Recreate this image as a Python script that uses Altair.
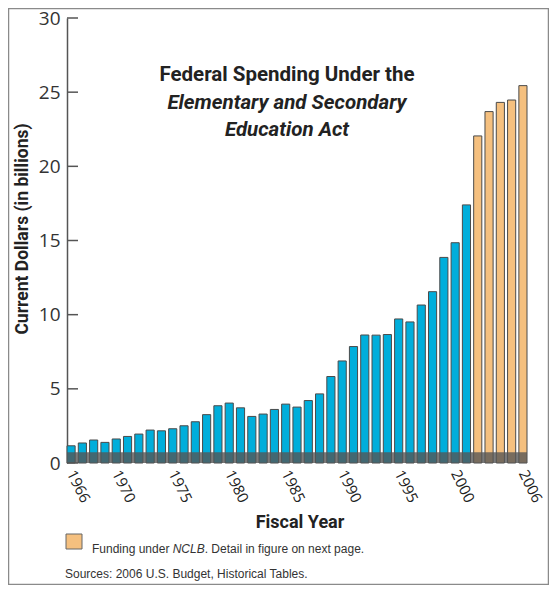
import altair as alt
import pandas as pd

# ---- data ----
years = list(range(1966, 2007))
spending = [1.16, 1.35, 1.55, 1.39, 1.62, 1.79, 1.95, 2.22, 2.17, 2.31, 2.51, 2.78,
            3.26, 3.86, 4.04, 3.72, 3.14, 3.30, 3.61, 3.97, 3.77, 4.21, 4.66,
            5.83, 6.88, 7.85, 8.63, 8.62, 8.66, 9.71, 9.51, 10.65, 11.55, 13.86, 14.85, 17.40,
            22.05, 23.69, 24.31, 24.47, 25.44]
period = ["ESEA"] * 36 + ["NCLB"] * 5
year_ticks = [1966, 1970, 1975, 1980, 1985, 1990, 1995, 2000, 2006]
y_ticks = [0, 5, 10, 15, 20, 25, 30]
title_lines = ["Federal Spending Under the", "Elementary and Secondary", "Education Act"]
y_title = "Current Dollars (in billions)"
x_title = "Fiscal Year"
legend_parts = ["Funding under ", "NCLB", ". Detail in figure on next page."]
source_note = "Sources: 2006 U.S. Budget, Historical Tables."

W, H = 460, 445
HEAD = "Roboto, Liberation Sans, sans-serif"
REG = "Liberation Sans, Arial, sans-serif"
NUM = "Open Sans, Noto Sans, sans-serif"

df = pd.DataFrame({"year": years, "spending": spending, "period": period})
one = pd.DataFrame({"a": [0]})
xscale = alt.Scale(domain=years, paddingInner=0.28, paddingOuter=0.0)

bars = alt.Chart(df).mark_bar(stroke="#4a4a4a", strokeWidth=1).encode(
    x=alt.X("year:O", scale=xscale, axis=None),
    y=alt.Y("spending:Q",
            scale=alt.Scale(domain=[0, 30], nice=False),
            axis=alt.Axis(values=y_ticks, ticks=False, domainColor="#555",
                          domainWidth=1.5, labelFontSize=19, labelFont=NUM,
                          labelColor="#333", labelPadding=7, grid=False, title=None)),
    color=alt.Color("period:N",
                    scale=alt.Scale(domain=["ESEA", "NCLB"], range=["#00AEDB", "#F5C07F"]),
                    legend=None),
)

# x tick labels, placed through the shared band scale
xlabels = alt.Chart(pd.DataFrame({"year": year_ticks})).mark_text(
    angle=64, align="left", baseline="middle", font=NUM, fontSize=15,
    color="#222").encode(
    x=alt.X("year:O", scale=xscale, axis=None),
    y=alt.value(H + 8),
    text=alt.Text("year:O"))

band = alt.Chart(pd.DataFrame({"lo": [0.0], "hi": [0.72]})).mark_rect(
    color="#555", opacity=0.78).encode(
    x=alt.value(0), x2=alt.value(W),
    y=alt.Y("lo:Q", title=None), y2="hi:Q")

ticks = alt.Chart(pd.DataFrame({"t": y_ticks})).mark_rule(
    color="#555", strokeWidth=1.5).encode(
    y=alt.Y("t:Q", title=None), x=alt.value(0), x2=alt.value(11))

def txt(text, x, y, **kw):
    return alt.Chart(one).mark_text(text=text, **kw).encode(x=alt.value(x), y=alt.value(y))

t1 = txt(title_lines[0], 220, 63, font=HEAD, fontSize=20.5, fontWeight="bold",
         color="#222", align="center", baseline="alphabetic")
t2 = txt(title_lines[1], 220, 91, font=HEAD, fontSize=20.5, fontWeight="bold",
         fontStyle="italic", color="#222", align="center", baseline="alphabetic")
t3 = txt(title_lines[2], 220, 118, font=HEAD, fontSize=20.5, fontWeight="bold",
         fontStyle="italic", color="#222", align="center", baseline="alphabetic")
yt = txt(y_title, -44, 211, font=HEAD, fontSize=17.5, fontWeight="bold", angle=270,
         color="#222", align="center", baseline="middle")
xt = txt(x_title, 233, 505, font=HEAD, fontSize=18, fontWeight="bold",
         color="#222", align="center", baseline="middle")

swatch = alt.Chart(one).mark_rect(fill="#F5C07F", stroke="#666", strokeWidth=1).encode(
    x=alt.value(-1), x2=alt.value(15), y=alt.value(516), y2=alt.value(531))
l1 = txt(legend_parts[0], 25, 535, font=REG, fontSize=12, color="#333",
         align="left", baseline="alphabetic")
l2 = txt(legend_parts[1], 25 + 80.7, 535, font=REG, fontSize=12, fontStyle="italic",
         color="#333", align="left", baseline="alphabetic")
l3 = txt(legend_parts[2], 25 + 80.7 + 32.0, 535, font=REG, fontSize=12, color="#333",
         align="left", baseline="alphabetic")
src = txt(source_note, -2, 560, font=REG, fontSize=12, color="#333",
          align="left", baseline="alphabetic")

frame = alt.Chart(one).mark_rect(fillOpacity=0, stroke="#8a8a8a", strokeWidth=1.5).encode(
    x=alt.value(-58.5), x2=alt.value(481.5), y=alt.value(-9.5), y2=alt.value(566.5))

chart = alt.layer(
    frame, bars, band, ticks, xlabels, t1, t2, t3, yt, xt, swatch, l1, l2, l3, src
).properties(
    width=W, height=H,
    autosize=alt.AutoSizeParams(type="none"),
    padding={"left": 59, "top": 10, "right": 22, "bottom": 122},
).configure_view(stroke=None)

chart.save("out.html", embed_options={"renderer": "svg", "actions": False})
